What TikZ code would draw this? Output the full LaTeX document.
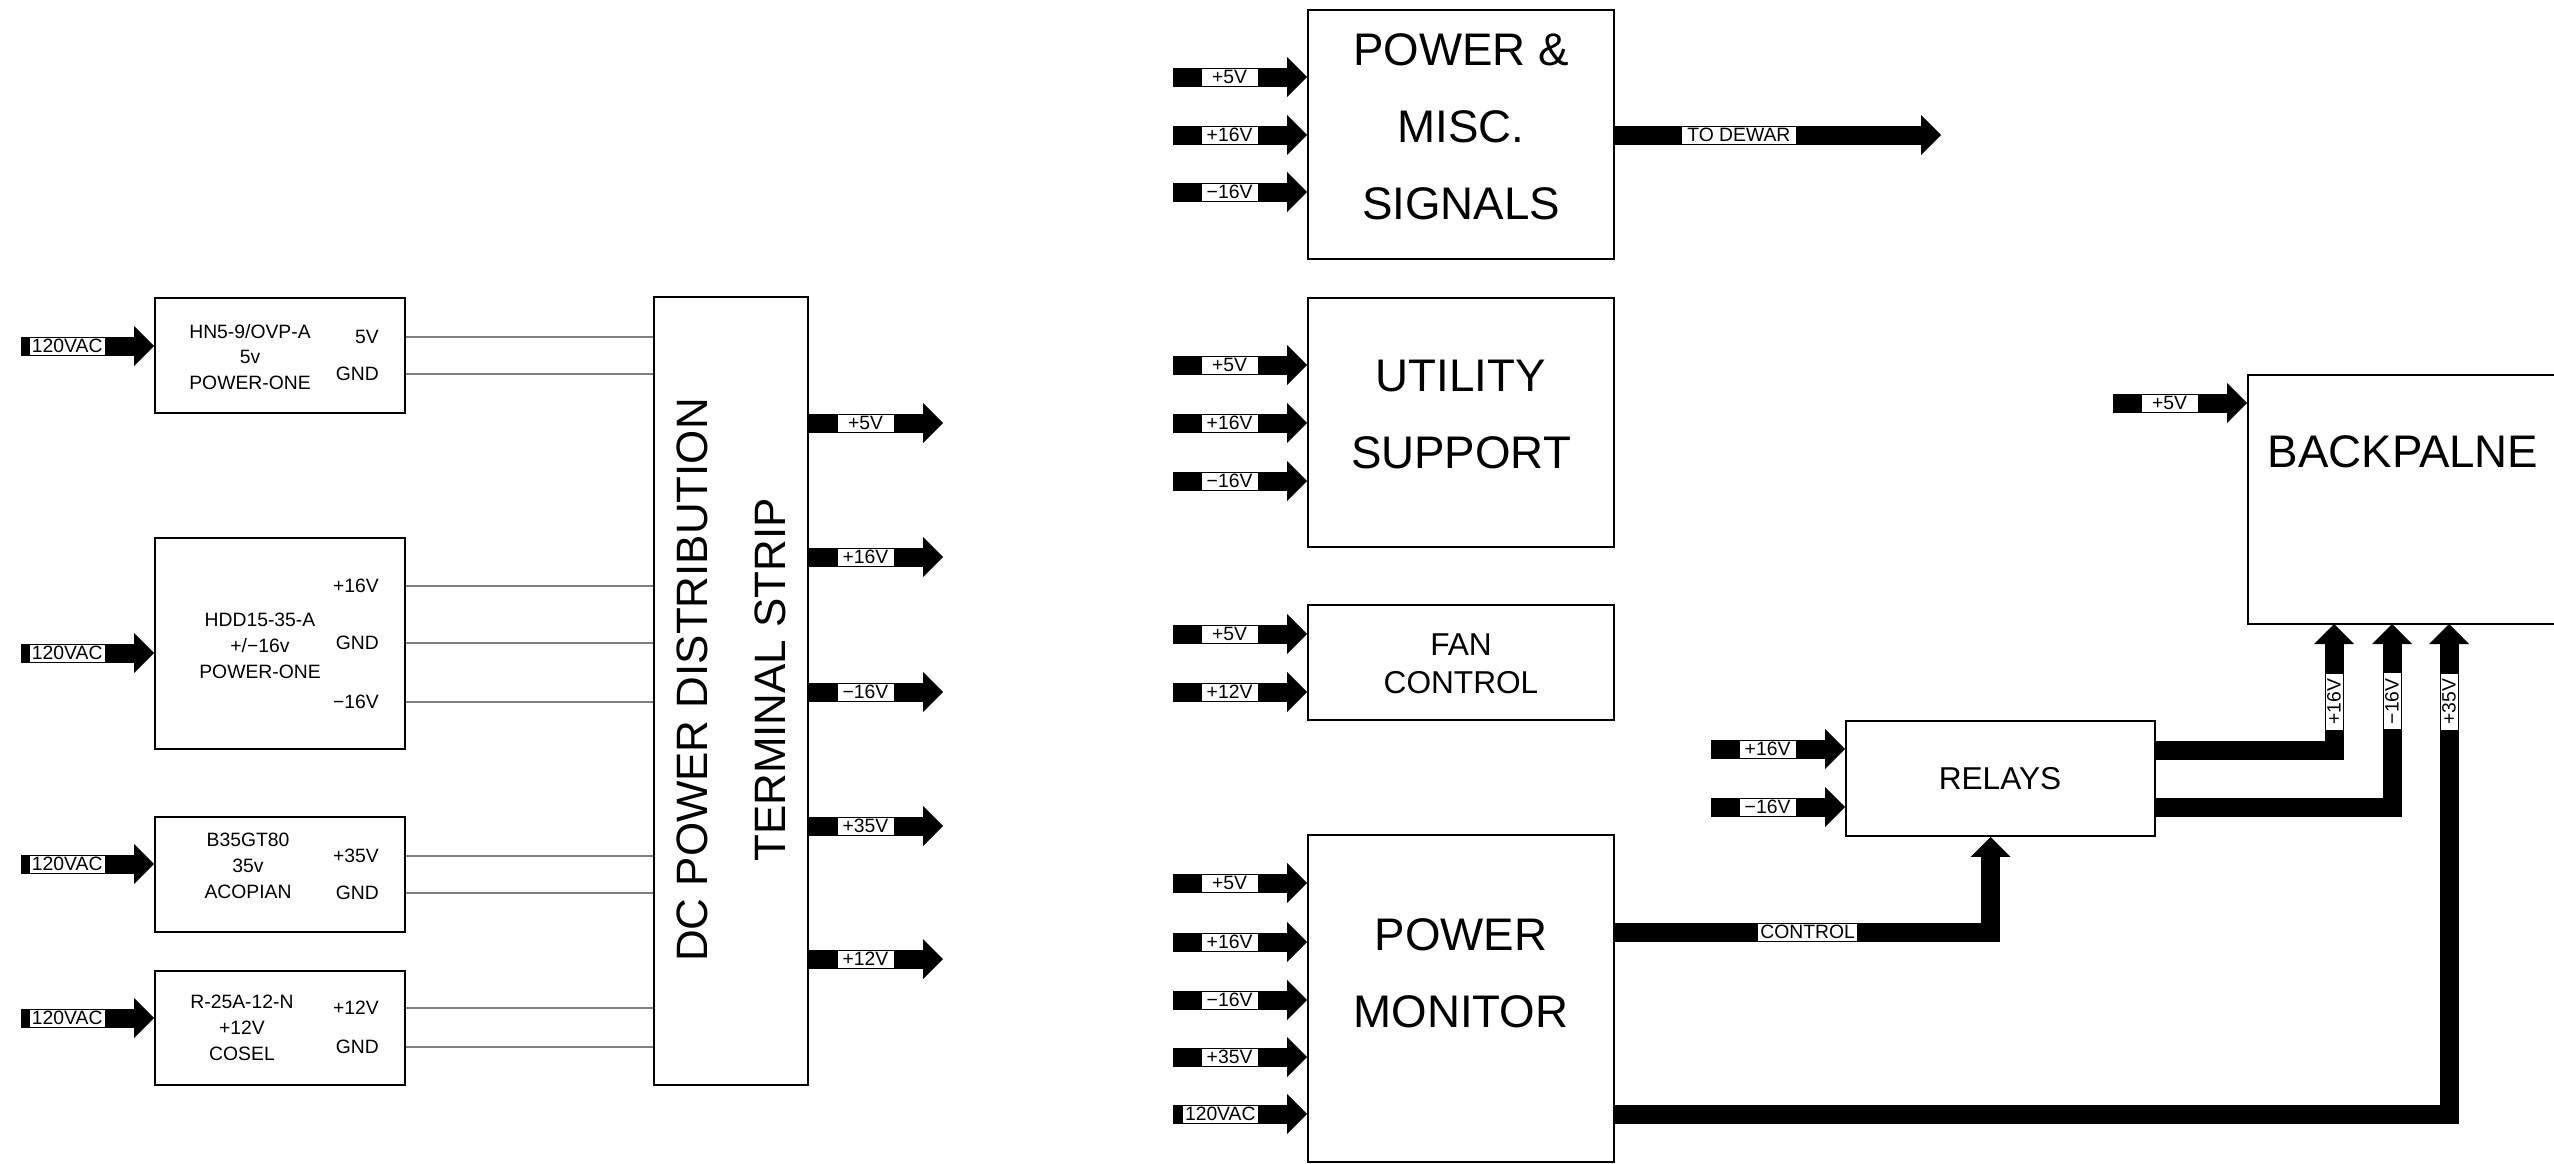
\documentclass[tikz,border=0pt]{standalone}
\usepackage{fontspec}
\setmainfont{Liberation Sans}
\usetikzlibrary{arrows.meta,positioning}

\begin{document}
\begin{tikzpicture}[x=0.02cm, y=-0.02cm,
  blk/.style={rectangle, draw, line width=0.04cm},
  wire/.style={gray, line width=0.03cm},
  bus/.style={line width=0.38cm, -{Triangle[width=0.8cm,length=0.4cm,line width=0pt]}},
  vtag/.style={fill=white, inner xsep=0.04cm, inner ysep=0pt, minimum width=1.12cm, minimum height=0.34cm, font=\fontsize{11}{13}\selectfont},
  tagend/.style={vtag, pos=1, anchor=east, xshift=-0.8cm},
  psutxt/.style={align=center, font=\fontsize{11}{14.7}\selectfont},
  pinlbl/.style={anchor=east, font=\fontsize{11}{13}\selectfont},
  midtxt/.style={align=center, font=\fontsize{18}{21.5}\selectfont},
  bigtxt/.style={align=center, font=\fontsize{26}{43.7}\selectfont}]
\useasboundingbox (0,0) rectangle (2554,1163);

% Power supplies
\node[blk, minimum width=5cm, minimum height=2.3cm] (hn5) at (280,355.5) {};
\node[blk, minimum width=5cm, minimum height=4.22cm] (hdd) at (280,643.5) {};
\node[blk, minimum width=5cm, minimum height=2.3cm] (b35) at (280,874.5) {};
\node[blk, minimum width=5cm, minimum height=2.28cm] (r25) at (280,1028) {};

\node[psutxt] (hn5txt) at (250,357) {HN5-9/OVP-A\\5v\\POWER-ONE};
\node[psutxt] (hddtxt) at (260,646) {HDD15-35-A\\+/−16v\\POWER-ONE};
\node[psutxt] (b35txt) at (248,866) {B35GT80\\35v\\ACOPIAN};
\node[psutxt] (r25txt) at (242,1028) {R-25A-12-N\\+12V\\COSEL};

\node[pinlbl] (hn5a) at (385,337) {5V};
\node[pinlbl] (hn5g) at (385,374) {GND};
\node[pinlbl] (hdda) at (385,586) {+16V};
\node[pinlbl] (hddg) at (385,643) {GND};
\node[pinlbl] (hddb) at (385,702) {−16V};
\node[pinlbl] (b35a) at (385,856) {+35V};
\node[pinlbl] (b35g) at (385,893) {GND};
\node[pinlbl] (r25a) at (385,1008) {+12V};
\node[pinlbl] (r25g) at (385,1047) {GND};

% AC inputs
\coordinate (ac1) at (21,346);
\coordinate (ac2) at (21,653);
\coordinate (ac3) at (21,864);
\coordinate (ac4) at (21,1018);
\draw[bus] (ac1) -- (ac1 -| hn5.west) node[tagend] {120VAC};
\draw[bus] (ac2) -- (ac2 -| hdd.west) node[tagend] {120VAC};
\draw[bus] (ac3) -- (ac3 -| b35.west) node[tagend] {120VAC};
\draw[bus] (ac4) -- (ac4 -| r25.west) node[tagend] {120VAC};

% Terminal strip
\node[blk, minimum width=3.08cm, minimum height=15.76cm] (strip) at (731,691) {};
\node[bigtxt, rotate=90, font=\fontsize{25}{44.3}\selectfont] (striptxt) at (731,680) {DC POWER DISTRIBUTION\\TERMINAL STRIP};

\draw[wire] (hn5.east |- hn5a) -- (strip.west |- hn5a);
\draw[wire] (hn5.east |- hn5g) -- (strip.west |- hn5g);
\draw[wire] (hdd.east |- hdda) -- (strip.west |- hdda);
\draw[wire] (hdd.east |- hddg) -- (strip.west |- hddg);
\draw[wire] (hdd.east |- hddb) -- (strip.west |- hddb);
\draw[wire] (b35.east |- b35a) -- (strip.west |- b35a);
\draw[wire] (b35.east |- b35g) -- (strip.west |- b35g);
\draw[wire] (r25.east |- r25a) -- (strip.west |- r25a);
\draw[wire] (r25.east |- r25g) -- (strip.west |- r25g);

\coordinate (o5) at (943,423);
\coordinate (o16) at (943,557);
\coordinate (om16) at (943,692);
\coordinate (o35) at (943,826);
\coordinate (o12) at (943,959);
\draw[bus] (strip.east |- o5) -- (o5) node[tagend] {+5V};
\draw[bus] (strip.east |- o16) -- (o16) node[tagend] {+16V};
\draw[bus] (strip.east |- om16) -- (om16) node[tagend] {−16V};
\draw[bus] (strip.east |- o35) -- (o35) node[tagend] {+35V};
\draw[bus] (strip.east |- o12) -- (o12) node[tagend] {+12V};

% Boards
\node[blk, minimum width=6.12cm, minimum height=4.98cm] (pms) at (1461,134.5) {};
\node[blk, minimum width=6.12cm, minimum height=4.98cm] (util) at (1461,422.5) {};
\node[blk, minimum width=6.12cm, minimum height=2.3cm] (fan) at (1461,662.5) {};
\node[blk, minimum width=6.12cm, minimum height=6.54cm] (pm) at (1461,998.5) {};
\node[blk, minimum width=6.18cm, minimum height=2.3cm] (rel) at (2000.5,778.5) {};
\node[blk, minimum width=6.24cm, minimum height=4.98cm] (bp) at (2404,499.5) {};

\node[bigtxt] (pmstxt) at (1461,127) {POWER \&\\MISC.\\SIGNALS};
\node[bigtxt] (utiltxt) at (1461,414.5) {UTILITY\\SUPPORT};
\node[midtxt] (fantxt) at (1461,664) {FAN\\CONTROL};
\node[bigtxt] (pmtxt) at (1461,973) {POWER\\MONITOR};
\node[midtxt] (reltxt) at (2000,779) {RELAYS};
\node[bigtxt] (bptxt) at (2403,452) {BACKPALNE};

% Board inputs
\coordinate (pms5) at (1173,77);
\coordinate (pms16) at (1173,135);
\coordinate (pmsm16) at (1173,192);
\draw[bus] (pms5) -- (pms5 -| pms.west) node[tagend] {+5V};
\draw[bus] (pms16) -- (pms16 -| pms.west) node[tagend] {+16V};
\draw[bus] (pmsm16) -- (pmsm16 -| pms.west) node[tagend] {−16V};

\coordinate (util5) at (1173,365);
\coordinate (util16) at (1173,423);
\coordinate (utilm16) at (1173,481);
\draw[bus] (util5) -- (util5 -| util.west) node[tagend] {+5V};
\draw[bus] (util16) -- (util16 -| util.west) node[tagend] {+16V};
\draw[bus] (utilm16) -- (utilm16 -| util.west) node[tagend] {−16V};

\coordinate (fan5) at (1173,634);
\coordinate (fan12) at (1173,692);
\draw[bus] (fan5) -- (fan5 -| fan.west) node[tagend] {+5V};
\draw[bus] (fan12) -- (fan12 -| fan.west) node[tagend] {+12V};

\coordinate (pm5) at (1173,883);
\coordinate (pm16) at (1173,942);
\coordinate (pmm16) at (1173,1000);
\coordinate (pm35in) at (1173,1057);
\coordinate (pmac) at (1173,1114);
\draw[bus] (pm5) -- (pm5 -| pm.west) node[tagend] {+5V};
\draw[bus] (pm16) -- (pm16 -| pm.west) node[tagend] {+16V};
\draw[bus] (pmm16) -- (pmm16 -| pm.west) node[tagend] {−16V};
\draw[bus] (pm35in) -- (pm35in -| pm.west) node[tagend] {+35V};
\draw[bus] (pmac) -- (pmac -| pm.west) node[tagend] {120VAC};

\coordinate (rel16in) at (1711,749);
\coordinate (relm16in) at (1711,807);
\draw[bus] (rel16in) -- (rel16in -| rel.west) node[tagend] {+16V};
\draw[bus] (relm16in) -- (relm16in -| rel.west) node[tagend] {−16V};

\coordinate (bp5) at (2113,403);
\draw[bus] (bp5) -- (bp5 -| bp.west) node[tagend] {+5V};

% Outputs
\coordinate (dewar) at (1941,135);
\draw[bus] (pms.east |- dewar) -- (dewar) node[vtag, pos=0.38, minimum width=2.28cm] {TO DEWAR};

\coordinate (pmctl) at (1614,932);
\draw[bus] (pmctl) -| ([xshift=-0.2cm]rel.south) node[vtag, pos=0.257, minimum width=1.9cm] {CONTROL};

\coordinate (rel16) at (2155,750);
\coordinate (bp16) at (2334,624);
\draw[bus] (rel16) -| (bp16) node[vtag, rotate=90, pos=0.841, anchor=east] {+16V};

\coordinate (relm16) at (2155,807);
\coordinate (bpm16) at (2392,624);
\draw[bus] (relm16) -| (bpm16) node[vtag, rotate=90, pos=0.891, anchor=east] {−16V};

\coordinate (pm35) at (1614,1114);
\coordinate (bp35) at (2449,624);
\draw[bus] (pm35) -| (bp35) node[vtag, rotate=90, pos=0.959, anchor=east] {+35V};
\end{tikzpicture}
\end{document}
